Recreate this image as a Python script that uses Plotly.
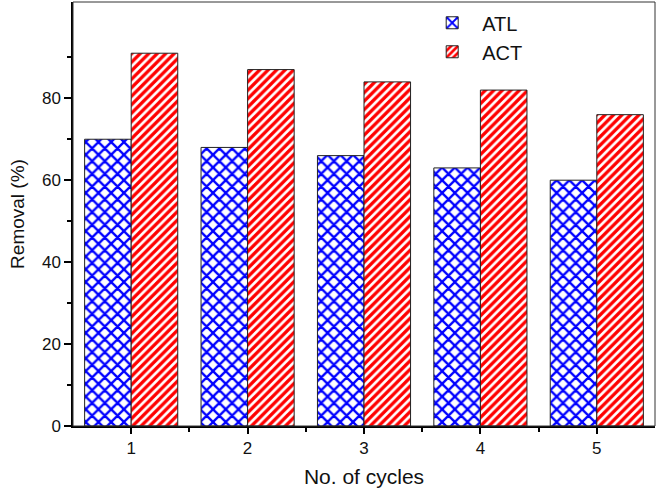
import plotly.graph_objects as go

cycles = [1, 2, 3, 4, 5]
atl = [70, 68, 66, 63, 60]
act = [91, 87, 84, 82, 76]
y_ticks = [0, 20, 40, 60, 80]

FONT = "Liberation Sans, Arial, sans-serif"

fig = go.Figure()
fig.add_trace(go.Bar(
    x=cycles, y=atl, name="ATL",
    marker=dict(color="white", line=dict(color="#222222", width=1),
                pattern=dict(shape="x", fgcolor="#0000ff", bgcolor="white",
                             size=9, solidity=0.45, fgopacity=1)),
))
fig.add_trace(go.Bar(
    x=cycles, y=act, name="ACT",
    marker=dict(color="white", line=dict(color="#222222", width=1),
                pattern=dict(shape="/", fgcolor="#ff0000", bgcolor="white",
                             size=6, solidity=0.55, fgopacity=1)),
))

fig.update_layout(
    width=658, height=491,
    margin=dict(l=73, r=3, t=2, b=65),
    paper_bgcolor="white", plot_bgcolor="white",
    barmode="group", bargap=0.2, bargroupgap=0,
    font=dict(family=FONT, color="#111111"),
    showlegend=True,
    legend=dict(x=0.6, y=0.997, xanchor="left", yanchor="top",
                font=dict(size=20, family=FONT, color="#111111"),
                bgcolor="rgba(0,0,0,0)", tracegroupgap=0,
                itemwidth=50, traceorder="normal"),
    xaxis=dict(range=[0.5, 5.5], tickvals=cycles, ticktext=[str(c) for c in cycles],
               showgrid=False, zeroline=False,
               showline=True, linecolor="black", linewidth=2,
               ticks="outside", ticklen=6, tickwidth=1.5, tickcolor="black",
               minor=dict(tickvals=[1.5, 2.5, 3.5, 4.5], ticks="outside",
                          ticklen=4, tickwidth=1.5, tickcolor="black"),
               tickfont=dict(size=17, family=FONT, color="#111111"),
               title=dict(text="No. of cycles", font=dict(size=21, family=FONT, color="#111111"),
                          standoff=12)),
    yaxis=dict(range=[0, 103.5], tickvals=y_ticks,
               showgrid=False, zeroline=False,
               showline=True, linecolor="black", linewidth=1.5,
               ticks="outside", ticklen=7, tickwidth=1.5, tickcolor="black",
               minor=dict(tickvals=[10, 30, 50, 70, 90], ticks="outside",
                          ticklen=4, tickwidth=1.5, tickcolor="black"),
               tickfont=dict(size=17, family=FONT, color="#111111"),
               title=dict(text="Removal (%)", font=dict(size=19, family=FONT, color="#111111"),
                          standoff=12)),
    shapes=[dict(type="rect", xref="paper", yref="paper", x0=0, x1=1, y0=0, y1=1,
                 line=dict(color="#333333", width=1), fillcolor="rgba(0,0,0,0)", layer="above")],
)

fig.write_html("out.html", config={"displayModeBar": False},
               post_script="document.body.style.margin='0';document.body.style.padding='0';")
